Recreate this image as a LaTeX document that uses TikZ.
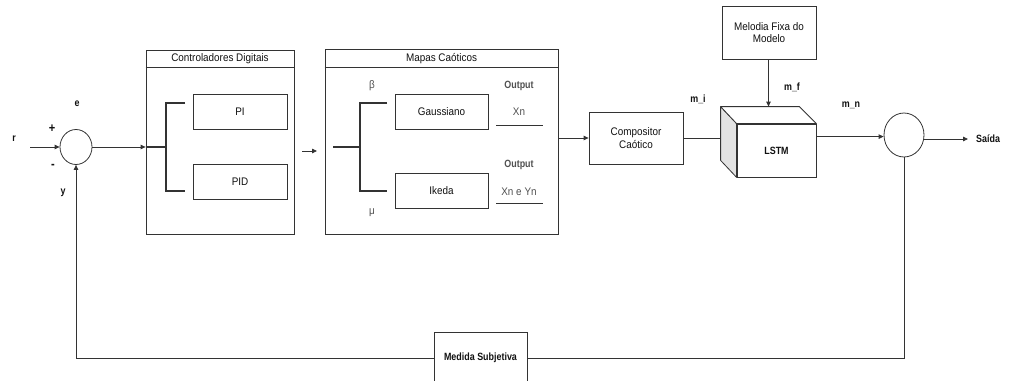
\documentclass[tikz,border=0pt]{standalone}
\usepackage{fontspec}
\setmainfont{Liberation Sans}[FakeStretch=0.9, BoldFeatures={FakeStretch=0.85}]
\usetikzlibrary{arrows.meta,shapes.geometric,calc}
\definecolor{lc}{HTML}{333333}
\definecolor{tc}{HTML}{111111}
\definecolor{gc}{HTML}{505050}
\definecolor{sidefill}{HTML}{E3E3E3}
\begin{document}
\begin{tikzpicture}[x=1pt,y=-1pt,
  font=\fontsize{11}{12.5}\selectfont, text=tc,
  line/.style={draw=lc, line width=0.8pt},
  arr/.style={line, -{Triangle[length=5pt,width=4.5pt]}},
  brk/.style={draw=lc, line width=1.7pt},
  box/.style={draw=lc, line width=0.8pt, fill=white, inner sep=0pt, align=center},
  sum/.style={ellipse, draw=lc, line width=0.8pt, fill=white, inner sep=0pt},
  bf/.style={font=\fontsize{10.5}{12.5}\selectfont\bfseries},
  lbl/.style={inner sep=0pt, bf},
  sgn/.style={inner sep=0pt, font=\fontsize{13}{14}\selectfont\bfseries},
  glbl/.style={inner sep=0pt, text=gc},
]
\useasboundingbox (0,0) rectangle (1011,380);

% summing junctions
\node[sum, minimum width=32pt, minimum height=35pt] (s1) at (76,147) {};
\node[sum, minimum width=40pt, minimum height=44pt] (s2) at (904,135) {};

% labels around s1
\node[lbl] (r) at (14,139) {r};
\node[sgn] (plus) at (52,129) {+};
\node[sgn] (minus) at (53,166) {-};
\node[lbl] (e) at (77,104) {e};
\node[lbl] (y) at (63,193) {y};
\coordinate (rin) at (30,147);
\draw[arr] (rin) -- (s1.west);

% Controladores Digitais
\node[box, minimum width=148pt, minimum height=184pt] (ctrl) at (220,142) {};
\draw[line] ($(ctrl.north west)+(0,18)$) -- ($(ctrl.north east)+(0,18)$);
\node[inner sep=0pt] (ctrltitle) at (220,59) {Controladores Digitais};
\node[box, minimum width=94pt, minimum height=35pt] (pi) at (240,111.5) {PI};
\node[box, minimum width=94pt, minimum height=35pt] (pid) at (240,181.5) {PID};
\draw[arr] (s1.east) -- (ctrl.west |- s1.east);
\coordinate (b1a) at (166,147);
\coordinate (b1t) at (166,103);
\coordinate (b1b) at (166,191);
\draw[brk] (ctrl.west |- b1a) -- (b1a);
\draw[brk] (185,103) -- (b1t) -- (b1b) -- (185,191);

% floating arrow
\coordinate (fa1) at (302,151);
\coordinate (fa2) at (317,151);
\draw[arr] (fa1) -- (fa2);

% Mapas Caoticos
\node[box, minimum width=233pt, minimum height=185pt] (mapas) at (441.5,141.5) {};
\draw[line] ($(mapas.north west)+(0,19)$) -- ($(mapas.north east)+(0,19)$);
\node[inner sep=0pt] (maptitle) at (441.5,59) {Mapas Caóticos};
\node[box, minimum width=93pt, minimum height=35pt] (gau) at (441.5,111.5) {Gaussiano};
\node[box, minimum width=93pt, minimum height=35pt] (ike) at (441.5,190.5) {Ikeda};
\draw[brk] (333,147) -- (360,147);
\draw[brk] (387,103) -- (360,103) -- (360,191) -- (387,191);
\node[glbl] (beta) at (372,86) {β};
\node[glbl] (mu) at (372,213) {μ};
\node[glbl, bf] (out1) at (519,86) {Output};
\node[glbl] (xn) at (519,112) {Xn};
\draw[line] (496,125) -- (543,125);
\node[glbl, bf] (out2) at (519,165) {Output};
\node[glbl] (xnyn) at (519,192) {Xn e Yn};
\draw[line] (496,203) -- (543,203);

% Compositor
\node[box, minimum width=94pt, minimum height=52pt] (comp) at (636,138) {Compositor\\Caótico};
\draw[arr] (mapas.east |- comp.west) -- (comp.west);

% LSTM cube
\node[box, minimum width=79pt, minimum height=53pt, bf] (lstm) at (776.5,150.5) {LSTM};
\draw[line, fill=sidefill, line join=round] (lstm.north west) -- ++(-16,-17) -- ($(lstm.south west)+(-16,-17)$) -- (lstm.south west) -- cycle;
\draw[line, fill=white, line join=round] (lstm.north west) -- ++(-16,-17) -- ($(lstm.north east)+(-17,-17)$) -- (lstm.north east) -- cycle;
\coordinate (lin) at ($(lstm.north west)+(-16,14)$);
\draw[line] (comp.east) -- (comp.east -| lin);
\coordinate (ltop) at ($(lstm.north)+(-8,-17)$);

% Melodia
\node[box, minimum width=94pt, minimum height=53pt] (mel) at (769,32.5) {Melodia Fixa do\\Modelo};
\draw[arr] (mel.south -| ltop) -- (ltop);

\node[lbl] (mi) at (698,99) {m\_i};
\node[lbl] (mf) at (792,87) {m\_f};
\node[lbl] (mn) at (851,105) {m\_n};

% LSTM -> s2
\coordinate (lout) at ($(lstm.north east)+(0,13)$);
\draw[arr] (lout) -- (s2.west |- lout);

% output
\node[lbl, anchor=west] (saida) at (976,139) {Saída};
\draw[arr, shorten >=8pt] (s2.east |- saida.west) -- (saida.west);

% feedback
\node[box, minimum width=93pt, minimum height=52pt, bf] (med) at (480.5,358) {Medida Subjetiva};
\draw[line] (s2.south) -- (s2.south |- med.east) -- (med.east);
\draw[arr] (med.west) -- (s1.south |- med.west) -- (s1.south);
\end{tikzpicture}
\end{document}
